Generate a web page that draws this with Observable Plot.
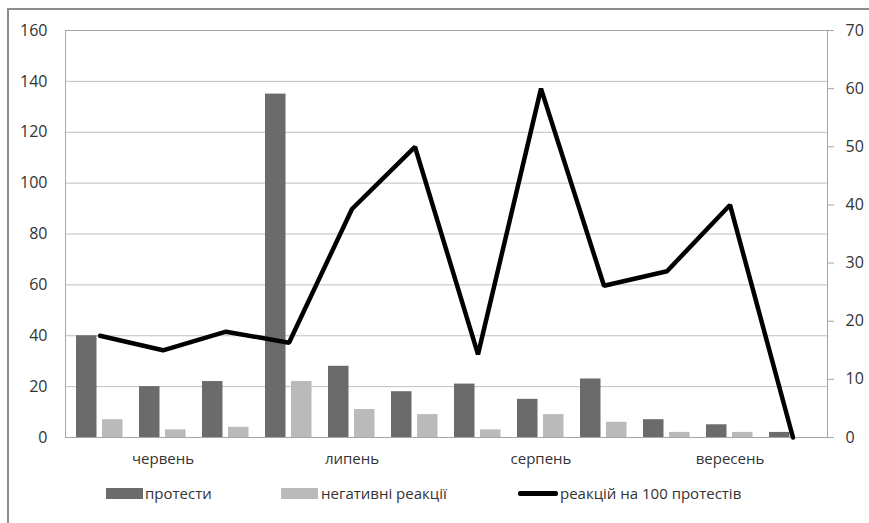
<!DOCTYPE html>
<html><head><meta charset="utf-8">
<script src="https://cdn.jsdelivr.net/npm/d3@7"></script>
<script src="https://cdn.jsdelivr.net/npm/@observablehq/plot@0.6"></script>
<style>
body{margin:0;background:#fff;font-family:"Open Sans",sans-serif;}
#wrap{position:relative;width:869px;height:523px;overflow:hidden;}
#border{position:absolute;left:7px;top:8px;width:900px;height:600px;border-top:2px solid #8c8c8c;border-left:2px solid #8c8c8c;}
#chart{position:absolute;left:0;top:0;}
.lg{position:absolute;font-size:15px;color:#333;line-height:20px;white-space:nowrap;}
.sw{position:absolute;}
</style></head>
<body><div id="wrap"><div id="border"></div><div id="chart"></div>
<div class="sw" style="left:106px;top:488px;width:37px;height:11px;background:#6b6b6b"></div>
<div class="lg" style="left:145px;top:483px">протести</div>
<div class="sw" style="left:281px;top:488px;width:37px;height:11px;background:#bababa"></div>
<div class="lg" style="left:321px;top:483px">негативні реакції</div>
<div class="sw" style="left:518px;top:491px;width:40px;height:5px;background:#000;border-radius:2px"></div>
<div class="lg" style="left:560px;top:483px">реакцій на 100 протестів</div>
</div>
<script>
const months = ["червень","липень","серпень","вересень"];
const periods = [0,1,2,3,4,5,6,7,8,9,10,11];
const monthAt = {1:"червень",4:"липень",7:"серпень",10:"вересень"};
const protests = [40,20,22,135,28,18,21,15,23,7,5,2];
const negative = [7,3,4,22,11,9,3,9,6,2,2,0];
const rate = [17.5,15,18.2,16.3,39.3,50,14.3,60,26.1,28.6,40,0];
const leftTicks = [0,20,40,60,80,100,120,140,160];
const rightTicks = [0,10,20,30,40,50,60,70];
const K = 160/70;

const rows = periods.map((p,i)=>({p, protests:protests[i], negative:negative[i], rate:rate[i]*K}));
const FS = 16;
const plot = Plot.plot({
  width:869, height:480,
  marginTop:30, marginBottom:43, marginLeft:65, marginRight:42,
  style:{fontFamily:"Open Sans, sans-serif", fontSize:"15px", color:"#333", background:"transparent"},
  x:{type:"band", domain:periods, padding:0, axis:null},
  y:{domain:[0,160], axis:null},
  marks:[
    Plot.gridY(leftTicks,{stroke:"#bfbfbf", strokeOpacity:1}),
    Plot.frame({stroke:"#a6a6a6"}),
    Plot.barY(rows,{x:"p", y:"protests", fill:"#6b6b6b", insetLeft:8, insetRight:34.5}),
    Plot.barY(rows,{x:"p", y:"negative", fill:"#bababa", insetLeft:34, insetRight:8.5}),
    Plot.lineY(rows,{x:"p", y:"rate", stroke:"#000", strokeWidth:4.5, strokeLinejoin:"miter"}),
    Plot.axisY({anchor:"left", ticks:leftTicks, tickSize:0, tickPadding:18, label:null, fontSize:FS, tickFormat:d=>d, fill:"#333"}),
    Plot.axisY({anchor:"right", ticks:rightTicks.map(v=>v*K), tickSize:6, tickPadding:12, label:null, fontSize:FS, stroke:"#a6a6a6", tickFormat:d=>Math.round(d/K), fill:"#333", textAnchor:"start"}),
    Plot.axisX({ticks:periods, tickSize:0, tickPadding:16, label:null, fontSize:15, tickFormat:d=>monthAt[d]||"", fill:"#333"})
  ]
});
document.getElementById("chart").appendChild(plot);
</script></body></html>
